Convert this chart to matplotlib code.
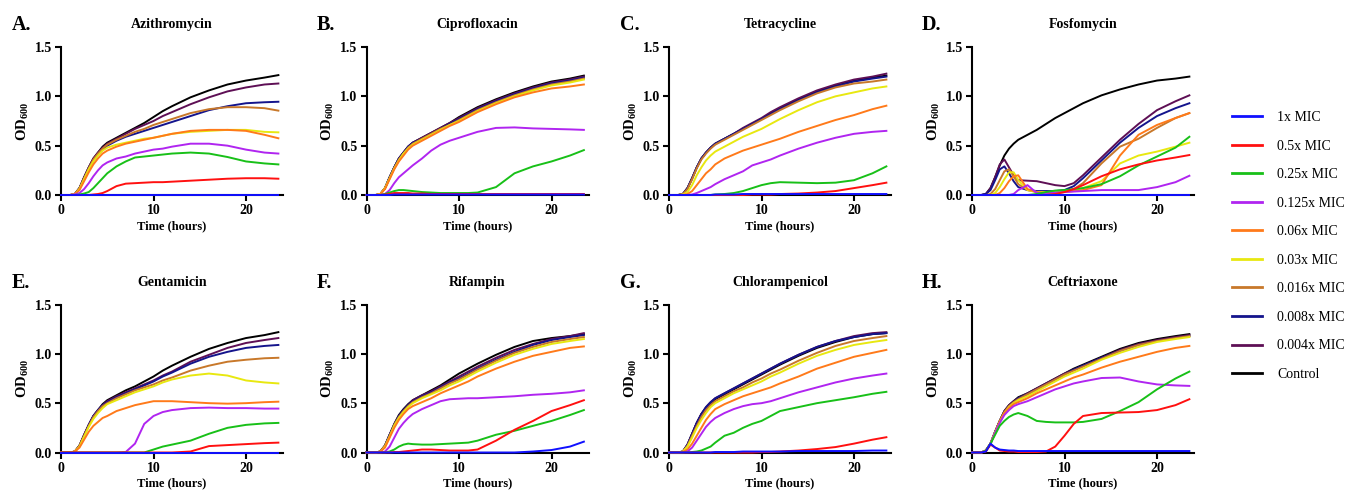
import matplotlib
matplotlib.use("Agg")
import matplotlib.pyplot as plt
from matplotlib.lines import Line2D

plt.rcParams['font.family'] = ['Liberation Serif', 'DejaVu Serif']
plt.rcParams['mathtext.fontset'] = 'custom'
plt.rcParams['mathtext.rm'] = 'Liberation Serif:bold'
plt.rcParams['mathtext.it'] = 'Liberation Serif:bold'
plt.rcParams['mathtext.bf'] = 'Liberation Serif:bold'

# ---------------- data ----------------
time_h = [0, 1, 1.5, 2, 2.5, 3, 3.5, 4, 4.5, 5, 6, 7, 8, 9, 10, 11, 12, 14, 16, 18, 20, 22, 23.5]

series_labels = ["1x MIC", "0.5x MIC", "0.25x MIC", "0.125x MIC", "0.06x MIC",
                 "0.03x MIC", "0.016x MIC", "0.008x MIC", "0.004x MIC", "Control"]
series_colors = ["#1010ff", "#ff1010", "#18c018", "#b025f0", "#ff7a1a",
                 "#e8e810", "#c8782a", "#14148c", "#5e0f55", "#000000"]

panel_letters = ["A.", "B.", "C.", "D.", "E.", "F.", "G.", "H."]
panel_titles = ["Azithromycin", "Ciprofloxacin", "Tetracycline", "Fosfomycin",
                "Gentamicin", "Rifampin", "Chlorampenicol", "Ceftriaxone"]

azithromycin = [
    [0, 0, 0, 0, 0, 0, 0, 0, 0, 0, 0, 0, 0, 0, 0, 0, 0, 0, 0, 0, 0, 0, 0],
    [0, 0, 0, 0, 0, 0, 0.005, 0.01, 0.02, 0.04, 0.09, 0.115, 0.12, 0.125, 0.13, 0.13, 0.135, 0.145, 0.155, 0.165, 0.17, 0.17, 0.165],
    [0, 0, 0, 0.005, 0.015, 0.03, 0.07, 0.12, 0.17, 0.22, 0.29, 0.34, 0.38, 0.39, 0.40, 0.41, 0.42, 0.43, 0.42, 0.385, 0.34, 0.32, 0.31],
    [0, 0, 0.005, 0.02, 0.06, 0.12, 0.19, 0.25, 0.30, 0.33, 0.37, 0.39, 0.42, 0.44, 0.46, 0.47, 0.49, 0.52, 0.52, 0.50, 0.46, 0.43, 0.42],
    [0, 0, 0.01, 0.05, 0.14, 0.23, 0.31, 0.37, 0.42, 0.45, 0.49, 0.52, 0.54, 0.56, 0.58, 0.60, 0.62, 0.65, 0.66, 0.66, 0.65, 0.61, 0.575],
    [0, 0, 0.01, 0.06, 0.16, 0.26, 0.34, 0.40, 0.45, 0.48, 0.51, 0.53, 0.55, 0.57, 0.58, 0.60, 0.62, 0.64, 0.65, 0.66, 0.66, 0.64, 0.635],
    [0, 0, 0.01, 0.07, 0.17, 0.27, 0.36, 0.42, 0.47, 0.51, 0.56, 0.60, 0.64, 0.67, 0.71, 0.74, 0.77, 0.83, 0.87, 0.89, 0.89, 0.88, 0.855],
    [0, 0, 0.01, 0.07, 0.17, 0.27, 0.35, 0.41, 0.46, 0.50, 0.55, 0.59, 0.62, 0.65, 0.68, 0.71, 0.74, 0.80, 0.86, 0.90, 0.93, 0.94, 0.945],
    [0, 0, 0.01, 0.07, 0.18, 0.28, 0.37, 0.43, 0.48, 0.52, 0.57, 0.62, 0.67, 0.71, 0.75, 0.80, 0.84, 0.92, 0.99, 1.05, 1.09, 1.12, 1.13],
    [0, 0, 0.01, 0.07, 0.18, 0.28, 0.37, 0.43, 0.49, 0.53, 0.58, 0.63, 0.68, 0.73, 0.79, 0.85, 0.90, 0.99, 1.06, 1.12, 1.16, 1.19, 1.215],
]

ciprofloxacin = [
    [0, 0, 0, 0, 0, 0.005, 0.005, 0.005, 0.005, 0.005, 0.005, 0.005, 0.005, 0.005, 0.005, 0.005, 0.005, 0.005, 0.005, 0.005, 0.005, 0.005, 0.005],
    [0, 0, 0, 0.005, 0.01, 0.02, 0.02, 0.02, 0.02, 0.015, 0.015, 0.01, 0.01, 0.01, 0.01, 0.01, 0.01, 0.01, 0.01, 0.01, 0.01, 0.01, 0.01],
    [0, 0, 0, 0.01, 0.025, 0.04, 0.05, 0.05, 0.045, 0.04, 0.03, 0.025, 0.02, 0.02, 0.02, 0.02, 0.025, 0.08, 0.22, 0.29, 0.34, 0.40, 0.455],
    [0, 0, 0, 0.01, 0.05, 0.12, 0.18, 0.22, 0.26, 0.30, 0.37, 0.45, 0.51, 0.55, 0.58, 0.61, 0.64, 0.68, 0.685, 0.675, 0.67, 0.665, 0.66],
    [0, 0, 0.01, 0.06, 0.16, 0.26, 0.34, 0.40, 0.46, 0.50, 0.55, 0.60, 0.65, 0.70, 0.74, 0.79, 0.84, 0.92, 0.99, 1.04, 1.08, 1.10, 1.12],
    [0, 0, 0.01, 0.07, 0.17, 0.27, 0.35, 0.42, 0.47, 0.51, 0.56, 0.61, 0.66, 0.71, 0.75, 0.80, 0.85, 0.93, 1.00, 1.06, 1.11, 1.14, 1.17],
    [0, 0, 0.01, 0.07, 0.17, 0.27, 0.36, 0.42, 0.48, 0.52, 0.57, 0.62, 0.67, 0.71, 0.76, 0.81, 0.86, 0.94, 1.01, 1.07, 1.12, 1.15, 1.18],
    [0, 0, 0.01, 0.07, 0.18, 0.28, 0.37, 0.43, 0.49, 0.53, 0.57, 0.62, 0.67, 0.72, 0.77, 0.82, 0.87, 0.95, 1.02, 1.08, 1.13, 1.16, 1.19],
    [0, 0, 0.01, 0.07, 0.18, 0.28, 0.37, 0.43, 0.49, 0.53, 0.58, 0.63, 0.68, 0.73, 0.78, 0.83, 0.88, 0.96, 1.03, 1.09, 1.14, 1.17, 1.20],
    [0, 0, 0.01, 0.07, 0.18, 0.28, 0.37, 0.43, 0.49, 0.53, 0.58, 0.63, 0.68, 0.73, 0.79, 0.84, 0.89, 0.97, 1.04, 1.10, 1.15, 1.18, 1.21],
]

tetracycline = [
    [0, 0, 0, 0, 0, 0, 0, 0, 0, 0.005, 0.005, 0.005, 0.01, 0.01, 0.01, 0.01, 0.01, 0.01, 0.01, 0.01, 0.01, 0.01, 0.01],
    [0, 0, 0, 0, 0, 0, 0, 0, 0, 0, 0, 0, 0, 0.005, 0.005, 0.005, 0.01, 0.015, 0.025, 0.04, 0.07, 0.10, 0.125],
    [0, 0, 0, 0, 0, 0, 0, 0, 0, 0.005, 0.01, 0.02, 0.04, 0.07, 0.10, 0.12, 0.13, 0.125, 0.12, 0.125, 0.15, 0.22, 0.29],
    [0, 0, 0, 0, 0.005, 0.02, 0.04, 0.06, 0.08, 0.11, 0.16, 0.20, 0.24, 0.30, 0.33, 0.36, 0.40, 0.47, 0.53, 0.58, 0.62, 0.64, 0.65],
    [0, 0, 0, 0.01, 0.04, 0.10, 0.16, 0.22, 0.26, 0.31, 0.37, 0.41, 0.45, 0.48, 0.51, 0.54, 0.57, 0.64, 0.70, 0.76, 0.81, 0.87, 0.905],
    [0, 0, 0.005, 0.03, 0.10, 0.20, 0.28, 0.35, 0.40, 0.44, 0.49, 0.54, 0.59, 0.63, 0.67, 0.72, 0.77, 0.86, 0.94, 1.00, 1.04, 1.08, 1.10],
    [0, 0, 0.01, 0.06, 0.16, 0.27, 0.36, 0.42, 0.47, 0.51, 0.56, 0.61, 0.66, 0.71, 0.76, 0.81, 0.86, 0.95, 1.03, 1.09, 1.13, 1.15, 1.17],
    [0, 0, 0.01, 0.07, 0.17, 0.28, 0.37, 0.43, 0.48, 0.52, 0.57, 0.62, 0.67, 0.72, 0.77, 0.82, 0.87, 0.96, 1.04, 1.10, 1.15, 1.18, 1.20],
    [0, 0, 0.01, 0.07, 0.17, 0.28, 0.37, 0.43, 0.48, 0.52, 0.57, 0.62, 0.68, 0.73, 0.78, 0.84, 0.89, 0.98, 1.06, 1.12, 1.17, 1.20, 1.23],
    [0, 0, 0.01, 0.07, 0.17, 0.28, 0.37, 0.43, 0.48, 0.52, 0.57, 0.62, 0.67, 0.72, 0.77, 0.83, 0.88, 0.97, 1.05, 1.11, 1.16, 1.19, 1.21],
]

fosfomycin = [
    [0, 0, 0, 0, 0, 0, 0, 0, 0, 0, 0, 0, 0, 0, 0, 0, 0, 0, 0, 0, 0, 0, 0],
    [0, 0, 0, 0, 0, 0, 0, 0, 0, 0, 0, 0, 0, 0.01, 0.03, 0.06, 0.10, 0.19, 0.26, 0.31, 0.35, 0.38, 0.405],
    [0, 0, 0, 0, 0, 0, 0, 0, 0, 0, 0, 0.01, 0.03, 0.045, 0.05, 0.06, 0.07, 0.11, 0.19, 0.30, 0.39, 0.48, 0.59],
    [0, 0, 0, 0, 0, 0, 0, 0, 0.01, 0.05, 0.10, 0.02, 0.02, 0.025, 0.03, 0.035, 0.04, 0.05, 0.05, 0.05, 0.08, 0.13, 0.195],
    [0, 0, 0, 0, 0, 0.02, 0.07, 0.14, 0.19, 0.20, 0.06, 0.03, 0.02, 0.02, 0.03, 0.04, 0.05, 0.10, 0.40, 0.61, 0.71, 0.78, 0.83],
    [0, 0, 0, 0, 0.02, 0.08, 0.16, 0.23, 0.23, 0.15, 0.05, 0.03, 0.03, 0.03, 0.04, 0.05, 0.07, 0.14, 0.32, 0.40, 0.44, 0.49, 0.53],
    [0, 0, 0, 0.01, 0.06, 0.15, 0.24, 0.26, 0.19, 0.11, 0.05, 0.03, 0.03, 0.03, 0.04, 0.06, 0.12, 0.32, 0.49, 0.57, 0.68, 0.78, 0.83],
    [0, 0, 0.01, 0.05, 0.15, 0.26, 0.29, 0.22, 0.14, 0.08, 0.05, 0.04, 0.04, 0.04, 0.05, 0.09, 0.17, 0.35, 0.53, 0.68, 0.80, 0.88, 0.93],
    [0, 0, 0.01, 0.07, 0.18, 0.31, 0.36, 0.28, 0.20, 0.15, 0.145, 0.14, 0.12, 0.10, 0.09, 0.12, 0.20, 0.38, 0.56, 0.72, 0.86, 0.95, 1.01],
    [0, 0, 0.01, 0.07, 0.18, 0.30, 0.40, 0.47, 0.52, 0.56, 0.61, 0.66, 0.72, 0.78, 0.83, 0.88, 0.93, 1.01, 1.07, 1.12, 1.16, 1.18, 1.20],
]

gentamicin = [
    [0, 0, 0, 0, 0, 0, 0, 0, 0, 0, 0, 0, 0, 0, 0, 0, 0, 0, 0, 0, 0, 0, 0],
    [0, 0, 0, 0, 0, 0, 0, 0, 0, 0, 0, 0, 0, 0, 0, 0, 0, 0.01, 0.065, 0.075, 0.085, 0.095, 0.10],
    [0, 0, 0, 0, 0, 0, 0, 0, 0, 0, 0, 0, 0, 0, 0.03, 0.06, 0.08, 0.12, 0.19, 0.25, 0.28, 0.295, 0.30],
    [0, 0, 0, 0, 0, 0, 0, 0, 0, 0, 0, 0.005, 0.09, 0.29, 0.37, 0.41, 0.43, 0.45, 0.455, 0.45, 0.45, 0.445, 0.445],
    [0, 0, 0.01, 0.05, 0.13, 0.21, 0.27, 0.31, 0.35, 0.37, 0.42, 0.45, 0.48, 0.50, 0.52, 0.52, 0.52, 0.51, 0.50, 0.495, 0.50, 0.51, 0.515],
    [0, 0, 0.01, 0.06, 0.16, 0.26, 0.34, 0.40, 0.45, 0.49, 0.53, 0.57, 0.61, 0.64, 0.67, 0.71, 0.74, 0.78, 0.80, 0.78, 0.73, 0.71, 0.70],
    [0, 0, 0.01, 0.07, 0.17, 0.27, 0.36, 0.42, 0.47, 0.50, 0.55, 0.59, 0.63, 0.66, 0.69, 0.73, 0.76, 0.83, 0.88, 0.92, 0.94, 0.955, 0.96],
    [0, 0, 0.01, 0.07, 0.17, 0.28, 0.37, 0.43, 0.48, 0.51, 0.56, 0.60, 0.64, 0.68, 0.72, 0.77, 0.81, 0.90, 0.97, 1.02, 1.06, 1.08, 1.09],
    [0, 0, 0.01, 0.07, 0.18, 0.28, 0.37, 0.43, 0.48, 0.52, 0.57, 0.61, 0.65, 0.69, 0.73, 0.78, 0.82, 0.92, 0.99, 1.06, 1.11, 1.14, 1.16],
    [0, 0, 0.01, 0.07, 0.18, 0.28, 0.37, 0.43, 0.49, 0.53, 0.58, 0.63, 0.67, 0.72, 0.77, 0.83, 0.88, 0.97, 1.05, 1.11, 1.16, 1.19, 1.22],
]

rifampin = [
    [0, 0, 0, 0, 0, 0, 0, 0, 0, 0, 0, 0, 0, 0, 0, 0, 0, 0, 0, 0.01, 0.025, 0.06, 0.11],
    [0, 0, 0, 0, 0, 0.005, 0.005, 0.01, 0.015, 0.02, 0.03, 0.03, 0.025, 0.02, 0.02, 0.02, 0.03, 0.12, 0.23, 0.32, 0.42, 0.48, 0.53],
    [0, 0, 0, 0, 0.01, 0.03, 0.06, 0.08, 0.09, 0.085, 0.08, 0.08, 0.085, 0.09, 0.095, 0.10, 0.12, 0.18, 0.22, 0.27, 0.32, 0.38, 0.43],
    [0, 0, 0, 0.01, 0.06, 0.15, 0.24, 0.30, 0.35, 0.39, 0.44, 0.48, 0.52, 0.54, 0.545, 0.55, 0.55, 0.56, 0.57, 0.585, 0.595, 0.61, 0.63],
    [0, 0, 0.01, 0.05, 0.15, 0.25, 0.33, 0.39, 0.44, 0.47, 0.51, 0.55, 0.60, 0.64, 0.68, 0.72, 0.77, 0.85, 0.92, 0.98, 1.02, 1.06, 1.075],
    [0, 0, 0.01, 0.06, 0.16, 0.27, 0.35, 0.41, 0.46, 0.50, 0.55, 0.59, 0.63, 0.68, 0.72, 0.77, 0.82, 0.91, 0.99, 1.05, 1.10, 1.13, 1.15],
    [0, 0, 0.01, 0.07, 0.17, 0.28, 0.36, 0.42, 0.47, 0.51, 0.56, 0.60, 0.65, 0.70, 0.74, 0.79, 0.84, 0.93, 1.01, 1.07, 1.12, 1.15, 1.17],
    [0, 0, 0.01, 0.07, 0.18, 0.28, 0.37, 0.43, 0.48, 0.52, 0.57, 0.61, 0.66, 0.71, 0.75, 0.80, 0.85, 0.94, 1.02, 1.09, 1.14, 1.17, 1.19],
    [0, 0, 0.01, 0.07, 0.18, 0.28, 0.37, 0.43, 0.48, 0.53, 0.58, 0.62, 0.67, 0.72, 0.77, 0.82, 0.87, 0.96, 1.04, 1.10, 1.15, 1.18, 1.21],
    [0, 0, 0.01, 0.07, 0.18, 0.29, 0.38, 0.44, 0.49, 0.53, 0.58, 0.63, 0.68, 0.74, 0.80, 0.85, 0.90, 0.99, 1.07, 1.13, 1.16, 1.18, 1.20],
]

chloramphenicol = [
    [0, 0, 0, 0, 0, 0, 0, 0, 0, 0.005, 0.005, 0.005, 0.01, 0.01, 0.01, 0.01, 0.01, 0.015, 0.015, 0.015, 0.015, 0.02, 0.02],
    [0, 0, 0, 0, 0, 0, 0, 0, 0, 0, 0, 0, 0, 0, 0.005, 0.005, 0.01, 0.02, 0.035, 0.055, 0.09, 0.13, 0.155],
    [0, 0, 0, 0, 0.005, 0.01, 0.02, 0.04, 0.06, 0.10, 0.17, 0.20, 0.25, 0.29, 0.32, 0.37, 0.42, 0.46, 0.50, 0.53, 0.56, 0.595, 0.615],
    [0, 0, 0, 0.01, 0.05, 0.12, 0.19, 0.26, 0.31, 0.35, 0.40, 0.44, 0.47, 0.49, 0.50, 0.52, 0.55, 0.61, 0.66, 0.71, 0.75, 0.78, 0.80],
    [0, 0, 0.005, 0.03, 0.09, 0.17, 0.25, 0.33, 0.39, 0.44, 0.49, 0.53, 0.57, 0.60, 0.63, 0.66, 0.70, 0.77, 0.85, 0.91, 0.97, 1.01, 1.04],
    [0, 0, 0.01, 0.06, 0.15, 0.25, 0.33, 0.40, 0.46, 0.50, 0.55, 0.60, 0.64, 0.68, 0.72, 0.77, 0.81, 0.90, 0.98, 1.04, 1.09, 1.12, 1.14],
    [0, 0, 0.01, 0.07, 0.17, 0.27, 0.36, 0.43, 0.48, 0.52, 0.57, 0.62, 0.66, 0.71, 0.75, 0.80, 0.84, 0.93, 1.01, 1.08, 1.13, 1.16, 1.18],
    [0, 0, 0.01, 0.08, 0.19, 0.30, 0.39, 0.46, 0.51, 0.55, 0.60, 0.65, 0.70, 0.75, 0.80, 0.85, 0.90, 0.99, 1.07, 1.13, 1.17, 1.20, 1.21],
    [0, 0, 0.01, 0.08, 0.19, 0.30, 0.39, 0.46, 0.51, 0.55, 0.60, 0.65, 0.70, 0.75, 0.80, 0.85, 0.90, 0.99, 1.07, 1.13, 1.18, 1.21, 1.22],
    [0, 0, 0.01, 0.08, 0.19, 0.30, 0.39, 0.45, 0.50, 0.54, 0.59, 0.64, 0.69, 0.74, 0.79, 0.84, 0.89, 0.98, 1.06, 1.12, 1.17, 1.20, 1.21],
]

ceftriaxone = [
    [0, 0, 0.01, 0.09, 0.05, 0.03, 0.025, 0.02, 0.02, 0.015, 0.015, 0.015, 0.015, 0.015, 0.015, 0.015, 0.015, 0.015, 0.015, 0.015, 0.015, 0.015, 0.015],
    [0, 0, 0.01, 0.08, 0.05, 0.02, 0.015, 0.01, 0.01, 0.005, 0.005, 0.005, 0.01, 0.06, 0.17, 0.29, 0.37, 0.40, 0.405, 0.41, 0.43, 0.48, 0.54],
    [0, 0, 0.02, 0.09, 0.18, 0.27, 0.32, 0.36, 0.385, 0.40, 0.37, 0.32, 0.31, 0.305, 0.305, 0.305, 0.31, 0.34, 0.42, 0.51, 0.64, 0.75, 0.82],
    [0, 0, 0.02, 0.09, 0.20, 0.30, 0.38, 0.43, 0.47, 0.49, 0.52, 0.56, 0.60, 0.64, 0.67, 0.70, 0.72, 0.755, 0.76, 0.72, 0.69, 0.68, 0.675],
    [0, 0, 0.02, 0.09, 0.20, 0.31, 0.40, 0.45, 0.49, 0.51, 0.55, 0.60, 0.64, 0.68, 0.72, 0.76, 0.79, 0.86, 0.92, 0.97, 1.02, 1.06, 1.08],
    [0, 0, 0.02, 0.09, 0.20, 0.31, 0.40, 0.46, 0.50, 0.53, 0.57, 0.62, 0.67, 0.72, 0.77, 0.81, 0.85, 0.94, 1.01, 1.07, 1.12, 1.15, 1.17],
    [0, 0, 0.02, 0.09, 0.21, 0.32, 0.41, 0.47, 0.51, 0.54, 0.59, 0.64, 0.69, 0.74, 0.79, 0.83, 0.87, 0.95, 1.03, 1.09, 1.13, 1.16, 1.18],
    [0, 0, 0.02, 0.09, 0.21, 0.32, 0.41, 0.47, 0.51, 0.55, 0.59, 0.64, 0.69, 0.74, 0.79, 0.84, 0.88, 0.96, 1.03, 1.09, 1.13, 1.16, 1.18],
    [0, 0, 0.02, 0.09, 0.21, 0.32, 0.42, 0.48, 0.52, 0.55, 0.60, 0.65, 0.70, 0.75, 0.80, 0.84, 0.88, 0.96, 1.04, 1.10, 1.14, 1.17, 1.19],
    [0, 0, 0.02, 0.09, 0.21, 0.32, 0.42, 0.48, 0.52, 0.56, 0.60, 0.65, 0.70, 0.75, 0.80, 0.85, 0.89, 0.97, 1.05, 1.11, 1.15, 1.18, 1.20],
]

panel_data = [azithromycin, ciprofloxacin, tetracycline, fosfomycin,
              gentamicin, rifampin, chloramphenicol, ceftriaxone]

# ---------------- layout ----------------
W, H = 1349, 493
fig = plt.figure(figsize=(W / 100, H / 100), dpi=100)

col_left_px = [61, 366.5, 669, 972]
axes_w_px = 222
row_bottom_px = [195, 452.5]   # pixel y of the x axis (from top)
axes_h_px = 148
letter_x_px = [12, 317, 620, 922]

for idx in range(8):
    r, c = divmod(idx, 4)
    left = col_left_px[c] / W
    bottom = (H - row_bottom_px[r]) / H
    ax = fig.add_axes([left, bottom, axes_w_px / W, axes_h_px / H])
    data = panel_data[idx]
    for k in range(len(series_labels) - 1, -1, -1):
        ax.plot(time_h, data[k], color=series_colors[k], lw=1.4,
                clip_on=False, solid_joinstyle='round', zorder=2)
    ax.set_xlim(0, 24)
    ax.set_ylim(0, 1.5)
    ax.set_xticks([0, 10, 20])
    ax.set_yticks([0, 0.5, 1.0, 1.5])
    ax.set_yticklabels(["0.0", "0.5", "1.0", "1.5"])
    for s in ['top', 'right']:
        ax.spines[s].set_visible(False)
    for s in ['left', 'bottom']:
        ax.spines[s].set_linewidth(1.5)
        ax.spines[s].set_zorder(1)
    ax.tick_params(direction='out', length=4, width=1.5, labelsize=10, pad=2.5)
    for lab in ax.get_xticklabels() + ax.get_yticklabels():
        lab.set_fontweight('bold')
    ax.set_xlabel("Time (hours)", fontsize=9, fontweight='bold', labelpad=2)
    ax.set_ylabel(r"OD$_{600}$", fontsize=10.5, fontweight='bold', labelpad=3)
    ax.text(0.5, 1.15, panel_titles[idx], transform=ax.transAxes,
            ha='center', va='center', fontsize=10, fontweight='bold')
    title_y_px = row_bottom_px[r] - axes_h_px - 22
    fig.text(letter_x_px[c] / W, 1 - title_y_px / H, panel_letters[idx],
             ha='left', va='center', fontsize=14.5, fontweight='bold')

handles = [Line2D([], [], color=series_colors[k], lw=2) for k in range(len(series_labels))]
fig.legend(handles, series_labels, loc='upper left',
           bbox_to_anchor=(1232 / W, 1 - 111 / H), frameon=False,
           fontsize=10, handlelength=2.16, handletextpad=1.08, labelspacing=1.12,
           borderaxespad=0, borderpad=0)

fig.savefig("out.png", dpi=100)
